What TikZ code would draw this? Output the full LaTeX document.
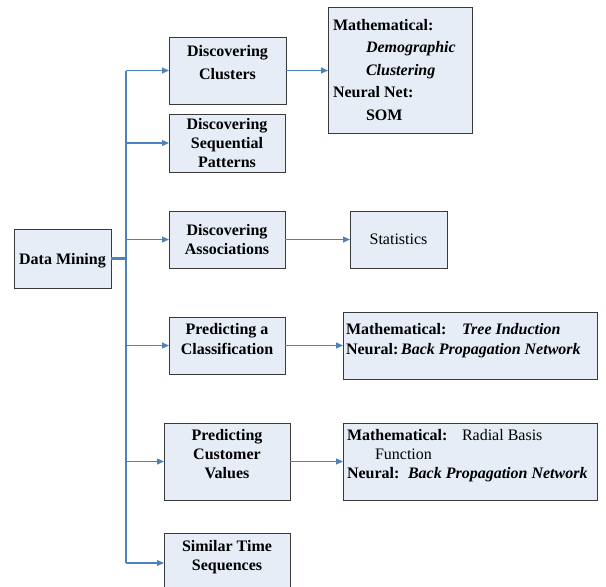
\documentclass[tikz,border=0pt]{standalone}
\usepackage{fontspec}
\setmainfont{Liberation Serif}
\usetikzlibrary{arrows.meta}
\definecolor{boxfill}{HTML}{E6EDF7}
\definecolor{boxline}{HTML}{3A3A3A}
\definecolor{conn}{HTML}{4F81BD}
% #1 width, #2 height, #3 first baseline from top, #4 baselineskip, #5 text
\newcommand{\ctrtxt}[5]{\parbox[c][#2][t]{#1}{\fontsize{16}{#4}\selectfont\centering\rule{0pt}{#3}#5\par}}
\newcommand{\lfttxt}[6]{\parbox[c][#2][t]{#1}{\fontsize{16}{#4}\selectfont\raggedright\leftskip=#6\relax\rule{0pt}{#3}#5\par}}
\tikzset{
  box/.style={draw=boxline, fill=boxfill, line width=0.9pt, inner sep=0pt, outer sep=0pt},
  arr/.style={draw=conn, line width=1.1pt, -{Triangle[length=7pt,width=6pt]}},
  plain/.style={draw=conn, line width=1.1pt},
  thickln/.style={draw=conn, line width=2.4pt}
}
\begin{document}
\begin{tikzpicture}[x=1pt,y=-1pt]
\useasboundingbox (0,0) rectangle (606,587);
\coordinate (tr) at (126,0);
% left column
\node[box] (dm) at (62.5,258.5) {\ctrtxt{97pt}{59pt}{35.5pt}{19pt}{\bfseries Data Mining}};
\node[box] (clu) at (227.5,70.5) {\ctrtxt{117pt}{67pt}{19.5pt}{22.6pt}{\bfseries Discovering\\Clusters}};
\node[box] (seq) at (227,143) {\ctrtxt{116pt}{58pt}{15pt}{19.3pt}{\bfseries Discovering\\Sequential\\Patterns}};
\node[box] (asc) at (227,239.5) {\ctrtxt{116pt}{57pt}{24pt}{19pt}{\bfseries Discovering\\Associations}};
\node[box] (cls) at (227,345.5) {\ctrtxt{116pt}{57pt}{17pt}{20pt}{\bfseries Predicting a\\Classification}};
\node[box] (cv) at (227,461.5) {\ctrtxt{126pt}{77pt}{17pt}{19pt}{\bfseries Predicting\\Customer\\Values}};
\node[box] (st) at (227,563) {\ctrtxt{126pt}{60pt}{18pt}{19pt}{\bfseries Similar Time\\Sequences}};
% right column
\node[box] (demo) at (400,70) {\lfttxt{144pt}{126pt}{23pt}{22.5pt}{\bfseries Mathematical:\\\hspace*{33pt}\textit{Demographic}\\\hspace*{33pt}\textit{Clustering}\\Neural Net:\\\hspace*{33pt}SOM}{5pt}};
\node[box] (stat) at (398.5,239.5) {\ctrtxt{97pt}{57pt}{33pt}{19pt}{Statistics}};
\node[box] (tree) at (470,345.5) {\lfttxt{254pt}{67pt}{22pt}{20pt}{\makebox[116pt][l]{\bfseries Mathematical:}\textbf{\textit{Tree Induction}}\\\textbf{Neural:}\,\textbf{\textit{Back Propagation Network}}}{3pt}};
\node[box] (rad) at (470,461.5) {\lfttxt{254pt}{77pt}{17pt}{19pt}{\makebox[115pt][l]{\bfseries Mathematical:}Radial Basis\\\hspace*{28pt}Function\\\makebox[61pt][l]{\bfseries Neural:}\textbf{\textit{Back Propagation Network}}}{4pt}};
% connectors
\draw[plain] (clu.west -| tr) -- (st.west -| tr);
\draw[thickln] (dm.east) -- (dm.east -| tr);
\draw[arr] (clu.west -| tr) -- (clu.west);
\draw[arr] (seq.west -| tr) -- (seq.west);
\draw[arr] (asc.west -| tr) -- (asc.west);
\draw[arr] (cls.west -| tr) -- (cls.west);
\draw[arr] (cv.west -| tr) -- (cv.west);
\draw[arr] (st.west -| tr) -- (st.west);
\draw[arr] (clu.east) -- (clu.east -| demo.west);
\draw[arr] (asc.east) -- (asc.east -| stat.west);
\draw[arr] (cls.east) -- (cls.east -| tree.west);
\draw[arr] (cv.east) -- (cv.east -| rad.west);
\end{tikzpicture}
\end{document}
